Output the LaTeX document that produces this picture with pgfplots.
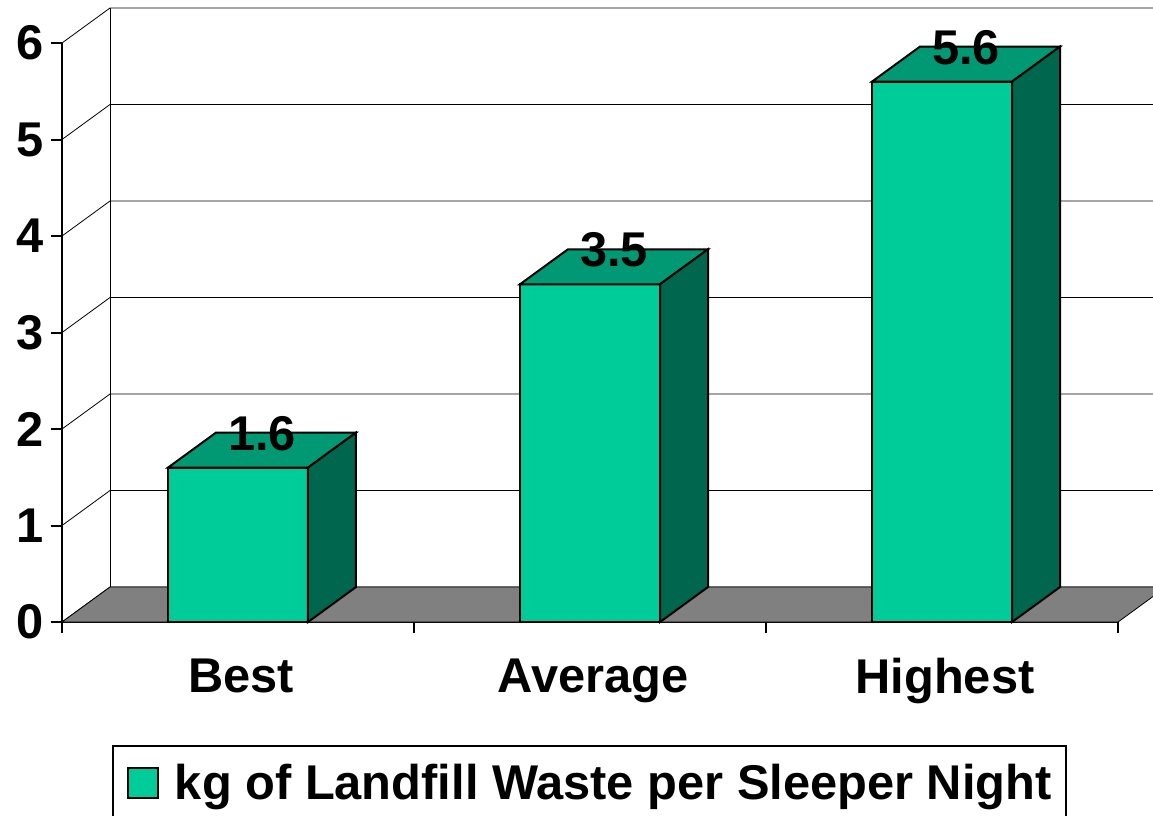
\documentclass[border=0pt]{standalone}
\usepackage{fontspec}
\setmainfont{Liberation Sans}
\usepackage{pgfplots}
\usepackage{pgfplotstable}
\pgfplotsset{compat=1.18}

\definecolor{barfront}{RGB}{0,204,153}
\definecolor{bartop}{RGB}{0,153,115}
\definecolor{barside}{RGB}{0,102,77}
\definecolor{floorgray}{RGB}{128,128,128}

\pgfplotstableread{
x   v
0.5 1.6
1.5 3.5
2.5 5.6
}\waste

% depth of the 3d look, in axis units (24pt across, 17.5pt up)
\def\depthx{0.13636}
\def\depthy{0.3627}

\pgfdeclareplotmark{empty}{}

\begin{document}
\begin{tikzpicture}[font=\fontsize{24.4}{28}\selectfont\bfseries, line width=1pt]
\begin{axis}[
  x=176pt, y=48.25pt,
  xmin=0, xmax=3, ymin=0, ymax=6,
  clip=false,
  axis lines*=left,
  axis line style={line width=1pt},
  every tick/.style={black, line width=1pt},
  tick align=outside,
  major tick length=5.5pt,
  ytick={0,1,2,3,4,5,6},
  xtick={0,1,2,3},
  xticklabels={},
  extra x ticks={0.5,1.5,2.5},
  extra x tick labels={Best,Average,Highest},
  extra x tick style={major tick length=0pt,
    xticklabel style={inner sep=0pt, anchor=north, yshift=-18pt, xshift=1.5pt}},
  yticklabel style={inner sep=0pt, anchor=east, xshift=-3.5pt},
  ticklabel style={font=\fontsize{24.4}{28}\selectfont\bfseries},
  /pgf/number format/assume math mode=true,
  legend style={at={(0.0473,-0.2124)}, anchor=north west, draw=black,
    line width=1pt, inner xsep=7pt, inner ysep=9pt,
    nodes={inner sep=0pt}, column sep=8pt,
    font=\fontsize{24.4}{28}\selectfont\bfseries},
  legend image code/.code={\draw[fill=barfront, line width=1pt] (0pt,-7.5pt) rectangle (15pt,7.5pt);},
]
% side wall and back wall lines
\pgfplotsinvokeforeach{0,1,2,3,4,5,6}{
  \draw (axis cs:0,#1) -- (axis cs:\depthx,#1+\depthy) -- (axis cs:3+\depthx,#1+\depthy);
}
\draw (axis cs:\depthx,\depthy) -- (axis cs:\depthx,6+\depthy);
% floor
\draw[fill=floorgray] (axis cs:0,0) -- (axis cs:3,0) -- (axis cs:3+\depthx,\depthy)
  -- (axis cs:\depthx,\depthy) -- cycle;

% top and right side of each bar
\addplot[forget plot, only marks, scatter, mark=empty,
  visualization depends on={rawy \as \barval},
  scatter/@pre marker code/.code={%
    \pgfmathsetlengthmacro\barh{\barval*48.25pt}%
    \begin{scope}
    \filldraw[fill=bartop, line width=1pt] (-35pt,0pt) -- (35pt,0pt) -- (59pt,17.5pt) -- (-11pt,17.5pt) -- cycle;
    \filldraw[fill=barside, line width=1pt] (35pt,0pt) -- (59pt,17.5pt) -- (59pt,17.5pt-\barh) -- (35pt,-\barh) -- cycle;
  },
  scatter/@post marker code/.code={\end{scope}},
] table[x=x, y=v] {\waste};

% front of the bars
\addplot[ybar, bar width=70pt, bar shift=0pt, fill=barfront, draw=black, line width=1pt,
  nodes near coords,
  every node near coord/.append style={anchor=base, xshift=12pt, yshift=8.75pt,
    inner sep=0pt, font=\fontsize{24.4}{28}\selectfont\bfseries},
] table[x=x, y=v] {\waste};
\addlegendentry{kg of Landfill Waste per Sleeper Night}

\coordinate (bbsw) at (axis cs:-0.1761,-2.0);
\coordinate (bbne) at (axis cs:3.0994,6.4456);
\end{axis}
\pgfresetboundingbox
\useasboundingbox (bbsw) rectangle (bbne);
\end{tikzpicture}
\end{document}
